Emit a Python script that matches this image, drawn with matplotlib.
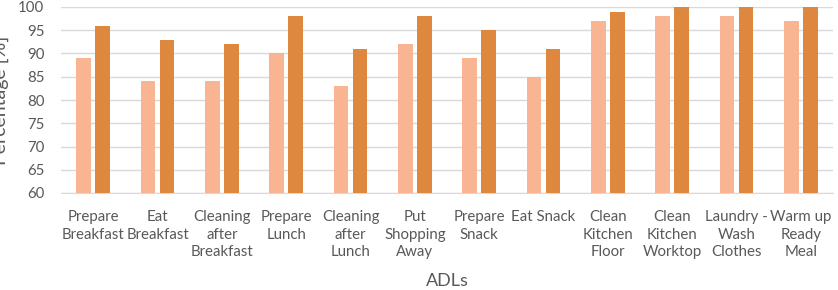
import matplotlib.pyplot as plt
import numpy as np

plt.rcParams['font.family'] = ['Lato', 'DejaVu Sans']

adls = ["Prepare\nBreakfast", "Eat\nBreakfast", "Cleaning\nafter\nBreakfast", "Prepare\nLunch",
        "Cleaning\nafter\nLunch", "Put\nShopping\nAway", "Prepare\nSnack", "Eat Snack",
        "Clean\nKitchen\nFloor", "Clean\nKitchen\nWorktop", "Laundry -\nWash\nClothes", "Warm up\nReady\nMeal"]
series_a = [89, 84, 84, 90, 83, 92, 89, 85, 97, 98, 98, 97]
series_b = [96, 93, 92, 98, 91, 98, 95, 91, 99, 100, 100, 100]

fig = plt.figure(figsize=(8.38, 2.9), dpi=100)
ax = fig.add_axes([61/838, 1 - 193/290, 772/838, 186/290])

x = np.arange(len(adls))
w = 0.225
ax.bar(x - 0.148, series_a, w, color="#F9B591", zorder=3)
ax.bar(x + 0.148, series_b, w, color="#DE873F", zorder=3)

ax.set_xlim(-0.5, len(adls) - 0.5)
ax.set_ylim(60, 100)
ax.set_yticks(range(60, 101, 5))
ax.yaxis.grid(True, color="#D9D9D9", lw=1, zorder=0)
for s in ["top", "right", "left"]:
    ax.spines[s].set_visible(False)
ax.spines["bottom"].set_color("#D9D9D9")
ax.tick_params(length=0, colors="#595959", labelsize=10.8)
ax.tick_params(axis="y", pad=12)
ax.tick_params(axis="x", pad=12)
ax.set_xticks(x)
ax.set_xticklabels(adls, linespacing=1.35)

ax.set_xlabel("ADLs", fontsize=13, color="#595959")
ax.xaxis.set_label_coords((447 - 61) / 772, -(273 - 193) / 186)
ax.set_ylabel("Percentage [%]", fontsize=14, color="#595959")
ax.yaxis.set_label_coords((9 - 61) / 772, 0.5)

fig.savefig("out.png", dpi=100)
